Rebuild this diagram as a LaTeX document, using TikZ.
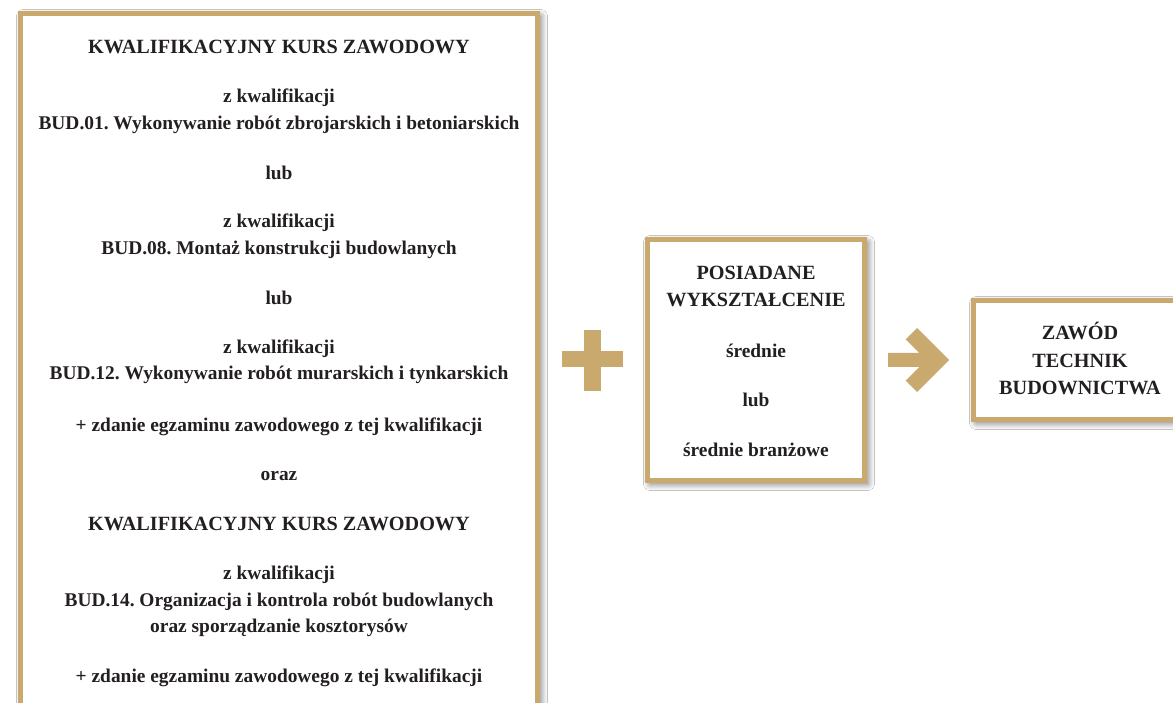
\documentclass[tikz,border=0pt]{standalone}
\usepackage{fontspec}
\setmainfont{Liberation Serif}
\usetikzlibrary{shadows.blur}
\definecolor{gold}{HTML}{C9A96E}
\definecolor{ink}{HTML}{231F20}
\frenchspacing
\tikzset{
  box/.style={draw=gold, line width=5pt, fill=white, rectangle, inner sep=0pt,
    blur shadow={shadow xshift=3pt, shadow yshift=-3pt, shadow blur radius=7pt, shadow opacity=60, shadow blur steps=12}},
  txt/.style={font=\fontsize{19.4}{21}\selectfont\bfseries\frenchspacing, text=ink, inner sep=0pt, anchor=base},
  head/.style={font=\fontsize{20.2}{22}\selectfont\bfseries, text=ink, inner sep=0pt, anchor=base},
  sym/.style={fill=gold, draw=none}
}
\begin{document}
\begin{tikzpicture}[x=1pt, y=-1pt]
\useasboundingbox (0,0) rectangle (1173,703);
\fill[white] (0,0) rectangle (1173,703);
% boxes
\node[box, minimum width=517pt, minimum height=730pt] (left) at (279,378.5) {};
\node[box, minimum width=217pt, minimum height=241pt] (mid) at (756,360) {};
\node[box, minimum width=230pt, minimum height=119pt] (right) at (1088.5,360) {};
% left text
\node[head] (l1) at (279,54) {KWALIFIKACYJNY KURS ZAWODOWY};
\node[txt] (l2) at (279,103) {z kwalifikacji};
\node[txt] (l3) at (279,130) {BUD.01. Wykonywanie robót zbrojarskich i betoniarskich};
\node[txt] (l4) at (279,180) {lub};
\node[txt] (l5) at (279,228) {z kwalifikacji};
\node[txt] (l6) at (279,255) {BUD.08. Montaż konstrukcji budowlanych};
\node[txt] (l7) at (279,305) {lub};
\node[txt] (l8) at (279,353) {z kwalifikacji};
\node[txt] (l9) at (279,380) {BUD.12. Wykonywanie robót murarskich i tynkarskich};
\node[txt] (l10) at (279,431) {+ zdanie egzaminu zawodowego z tej kwalifikacji};
\node[txt] (l11) at (279,480) {oraz};
\node[head] (l12) at (279,530) {KWALIFIKACYJNY KURS ZAWODOWY};
\node[txt] (l13) at (279,579) {z kwalifikacji};
\node[txt] (l14) at (279,606) {BUD.14. Organizacja i kontrola robót budowlanych};
\node[txt] (l15) at (279,632) {oraz sporządzanie kosztorysów};
\node[txt] (l16) at (279,682) {+ zdanie egzaminu zawodowego z tej kwalifikacji};
% middle text
\node[head] (m1) at (756,280) {POSIADANE};
\node[head] (m2) at (756,307) {WYKSZTAŁCENIE};
\node[txt] (m3) at (756,357) {średnie};
\node[txt] (m4) at (756,406) {lub};
\node[txt] (m5) at (756,456) {średnie branżowe};
% right text
\node[head] (r1) at (1080,340) {ZAWÓD};
\node[head] (r2) at (1080,367) {TECHNIK};
\node[head] (r3) at (1080,394) {BUDOWNICTWA};
% plus
\fill[sym] (584,330) rectangle (601,391);
\fill[sym] (562,351) rectangle (623,367);
% arrow
\fill[sym] (888,353) -- (919.4,353) -- (905.7,339.3) -- (917,328) -- (949,360)
  -- (917,392) -- (905.7,380.7) -- (919.4,367) -- (888,367) -- cycle;
\end{tikzpicture}
\end{document}
